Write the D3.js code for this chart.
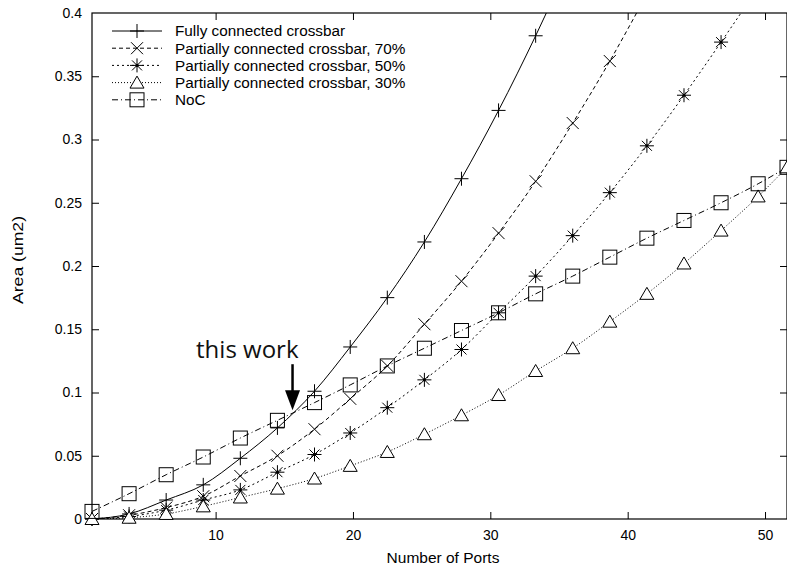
<!DOCTYPE html>
<html>
<head>
<meta charset="utf-8">
<script src="https://cdn.jsdelivr.net/npm/d3@7"></script>
<style>
  body { margin: 0; background: #fff; }
  svg { display: block; font-family: 'Liberation Sans', Arial, sans-serif; }
</style>
</head>
<body>
<svg width="787" height="569"></svg>
<script>
// data
const ports = [1, 3.7, 6.4, 9.1, 11.8, 14.5, 17.2, 19.8, 22.5, 25.2, 27.9, 30.6, 33.3, 36.0, 38.7, 41.4, 44.1, 46.8, 49.5, 51.6]
const fullCrossbar = [0, 0.004, 0.015, 0.027, 0.048, 0.072, 0.101, 0.136, 0.175, 0.219, 0.269, 0.323, 0.382, 0.446]
const partial70 = [0, 0.003, 0.009, 0.018, 0.034, 0.050, 0.071, 0.095, 0.121, 0.154, 0.188, 0.226, 0.267, 0.313, 0.362, 0.415]
const partial50 = [0, 0.002, 0.007, 0.015, 0.023, 0.037, 0.051, 0.068, 0.088, 0.110, 0.134, 0.163, 0.192, 0.224, 0.258, 0.295, 0.335, 0.377, 0.420]
const partial30 = [0, 0.001, 0.004, 0.010, 0.017, 0.024, 0.032, 0.042, 0.053, 0.067, 0.082, 0.098, 0.117, 0.135, 0.156, 0.178, 0.202, 0.228, 0.255, 0.278]
const noc = [0.006, 0.020, 0.035, 0.049, 0.064, 0.078, 0.092, 0.106, 0.121, 0.135, 0.149, 0.163, 0.178, 0.192, 0.207, 0.222, 0.236, 0.250, 0.265, 0.278]

const xTicks = [10, 20, 30, 40, 50]
const yTicks = [0, 0.05, 0.1, 0.15, 0.2, 0.25, 0.3, 0.35, 0.4]
const annotation = { port: 15.6, area: 0.086, label: 'this work' }

const series = [
  { name: 'Fully connected crossbar', values: fullCrossbar, dash: null, marker: 'plus' },
  { name: 'Partially connected crossbar, 70%', values: partial70, dash: '4,3', marker: 'cross' },
  { name: 'Partially connected crossbar, 50%', values: partial50, dash: '2,3', marker: 'star' },
  { name: 'Partially connected crossbar, 30%', values: partial30, dash: '1,2', marker: 'triangle' },
  { name: 'NoC', values: noc, dash: '6,3,1,3', marker: 'square' }
]

const margin = { top: 13, right: 0, bottom: 50, left: 92 }
const width = 787, height = 569
const svg = d3.select('svg')

const x = d3.scaleLinear().domain([1, 51.6]).range([margin.left, width - margin.right])
const y = d3.scaleLinear().domain([0, 0.4]).range([height - margin.bottom, margin.top])
const [x0, x1] = x.range()
const [yb, yt] = y.range()

svg.append('defs').append('clipPath').attr('id', 'plot')
  .append('rect').attr('x', x0).attr('y', yt).attr('width', x1 - x0).attr('height', yb - yt)

// marker shapes, centred on 0,0
function drawMarker(g, type) {
  const s = 7
  g.attr('fill', 'none').attr('stroke', '#000').attr('stroke-width', 1)
  if (type === 'plus') {
    g.append('path').attr('d', `M${-s},0H${s}M0,${-s}V${s}`)
  } else if (type === 'cross') {
    g.append('path').attr('d', `M${-6},${-6}L6,6M${-6},6L6,${-6}`)
  } else if (type === 'star') {
    g.append('path').attr('d', `M${-s},0H${s}M0,${-s}V${s}M${-5},${-5}L5,5M${-5},5L5,${-5}`)
    g.append('circle').attr('r', 1.6).attr('fill', '#000').attr('stroke', 'none')
  } else if (type === 'triangle') {
    g.append('path').attr('d', `M0,${-6.5}L7,5.5H${-7}Z`).attr('fill', '#fff')
  } else if (type === 'square') {
    g.append('rect').attr('x', -s).attr('y', -s).attr('width', 2 * s).attr('height', 2 * s).attr('fill', 'none')
  }
}

// frame
svg.append('rect')
  .attr('x', x0).attr('y', yt).attr('width', x1 - x0).attr('height', yb - yt)
  .attr('fill', 'none').attr('stroke', '#000').attr('stroke-width', 1.2)

// axes with inward ticks
const axisB = svg.append('g').attr('transform', `translate(0,${yb})`)
  .call(d3.axisBottom(x).tickValues(xTicks).tickSize(-7).tickPadding(11).tickFormat(d3.format('d')))
const axisT = svg.append('g').attr('transform', `translate(0,${yt})`)
  .call(d3.axisTop(x).tickValues(xTicks).tickSize(-7).tickFormat(''))
const axisL = svg.append('g').attr('transform', `translate(${x0},0)`)
  .call(d3.axisLeft(y).tickValues(yTicks).tickSize(-7).tickPadding(10).tickFormat(d => d === 0 ? '0' : d3.format('.2~f')(d)))
const axisR = svg.append('g').attr('transform', `translate(${x1},0)`)
  .call(d3.axisRight(y).tickValues(yTicks).tickSize(-7).tickFormat(''))

for (const a of [axisB, axisT, axisL, axisR]) {
  a.select('.domain').remove()
  a.selectAll('.tick line').attr('stroke', '#000').attr('stroke-width', 1)
  a.selectAll('text').attr('font-size', 14).attr('fill', '#000').attr('font-family', "'Liberation Sans', Arial, sans-serif")
}
axisL.selectAll('.tick').filter(d => d === 0.4 || d === 0).select('line').remove()
axisR.selectAll('.tick').filter(d => d === 0.4 || d === 0).select('line').remove()

// axis titles
svg.append('text')
  .attr('x', 443).attr('y', 563)
  .attr('text-anchor', 'middle').attr('font-size', 15.5)
  .text('Number of Ports')
svg.append('text')
  .attr('transform', `translate(23,${(yt + yb) / 2 - 6}) rotate(-90)`)
  .attr('text-anchor', 'middle').attr('font-size', 15)
  .attr('textLength', 88).attr('lengthAdjust', 'spacingAndGlyphs')
  .text('Area (um2)')

// series lines and markers
const plot = svg.append('g').attr('clip-path', 'url(#plot)')
series.forEach(s => {
  const pts = s.values.map((v, i) => [ports[i], v]).filter(p => p[0] !== undefined)
  const line = d3.line().x(d => x(d[0])).y(d => y(d[1])).curve(d3.curveMonotoneX)
  plot.append('path')
    .attr('d', line(pts))
    .attr('fill', 'none').attr('stroke', '#000').attr('stroke-width', 1)
    .attr('stroke-dasharray', s.dash)
  pts.filter(p => p[1] <= 0.4).forEach(p => {
    const g = svg.append('g').attr('transform', `translate(${x(p[0])},${y(p[1])})`)
    drawMarker(g, s.marker)
  })
})

// legend
const legend = svg.append('g')
series.forEach((s, i) => {
  const ly = 31 + i * 17.2
  legend.append('line')
    .attr('x1', 112).attr('x2', 162).attr('y1', ly).attr('y2', ly)
    .attr('stroke', '#000').attr('stroke-width', 1).attr('stroke-dasharray', s.dash)
  drawMarker(legend.append('g').attr('transform', `translate(137,${ly})`), s.marker)
  legend.append('text')
    .attr('x', 175).attr('y', ly).attr('dy', '0.35em')
    .attr('font-size', 15.3).text(s.name)
})

// "this work" annotation
const ax = x(annotation.port), ay = y(annotation.area)
svg.append('line')
  .attr('x1', ax).attr('x2', ax).attr('y1', ay - 46).attr('y2', ay - 18)
  .attr('stroke', '#000').attr('stroke-width', 2.5)
svg.append('path')
  .attr('d', `M${ax - 7.5},${ay - 20}L${ax + 7.5},${ay - 20}L${ax},${ay}Z`)
  .attr('fill', '#000')
svg.append('text')
  .attr('x', ax + 6).attr('y', ay - 52)
  .attr('text-anchor', 'end')
  .attr('font-family', "'Open Sans', sans-serif")
  .attr('font-size', 24)
  .attr('fill', '#111')
  .text(annotation.label)
</script>
</body>
</html>
